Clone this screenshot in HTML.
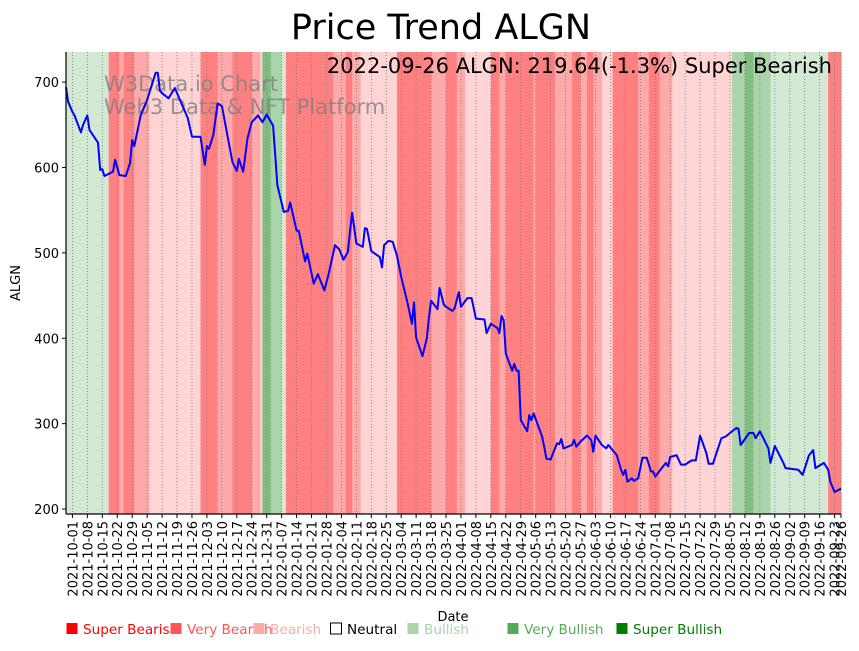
<!DOCTYPE html>
<html><head><meta charset="utf-8"><style>
body{margin:0;background:#fff;width:859px;height:646px;overflow:hidden;font-family:"Liberation Sans","DejaVu Sans",sans-serif}
svg text{font-family:"DejaVu Sans","Liberation Sans",sans-serif}
</style></head><body>
<svg id="chart" width="859" height="646" xmlns="http://www.w3.org/2000/svg">
<g id="bands"></g>
<g id="grid"></g>
<g id="wm">
<text x="104" y="91" font-size="21" fill="#808080" fill-opacity="0.8">W3Data.io Chart</text>
<text x="104" y="114" font-size="21" fill="#808080" fill-opacity="0.8">Web3 Data &amp; NFT Platform</text>
</g>
<path id="line" fill="none" stroke="#0000ff" stroke-width="2" stroke-linejoin="round"></path>
<g id="axes"></g>
<text x="441" y="39" font-size="35" text-anchor="middle">Price Trend ALGN</text>
<text x="832" y="73" font-size="21" text-anchor="end">2022-09-26 ALGN: 219.64(-1.3%) Super Bearish</text>
<text x="453" y="621" font-size="13" text-anchor="middle">Date</text>
<text transform="translate(20,283) rotate(-90)" font-size="13" text-anchor="middle">ALGN</text>
<g id="legend"></g>
</svg>
<script>
// Price data: day offsets from 2021-09-28 and closing values
const days=[0,1,3,4,7,8,10,11,15,16,17,18,22,23,25,28,30,31,32,35,38,42,43,44,45,48,51,53,57,59,63,65,66,67,69,71,73,76,78,80,81,83,85,87,90,92,94,97,99,102,104,105,108,109,112,113,116,118,121,123,126,128,130,132,134,136,139,140,141,143,147,148,149,151,153,155,157,160,162,163,164,167,169,170,171,174,175,177,178,181,182,184,185,188,190,192,196,197,199,202,203,204,205,206,209,210,211,212,213,216,217,218,219,223,224,225,227,230,231,232,233,237,238,239,241,244,246,247,248,251,253,254,258,260,261,262,263,265,266,268,270,272,273,274,275,276,279,281,282,283,286,288,290,293,295,297,300,301,303,307,309,314,315,316,320,322,323,325,329,330,332,336,337,343,345,348,350,351,355,357,358,360,363];
const prices=[694,677,665,661,641,650,661,644,629,597,598,590,595,609,591,590,605,632,625,661,679,711,711,690,687,681,693,681,658,636,636,603,625,622,638,675,672,632,606,596,610,595,634,653,661,653,662,649,579,548,549,559,526,526,490,499,464,475,456,475,509,504,492,501,547,511,507,529,528,502,495,483,509,514,513,497,472,441,417,442,401,379,400,424,444,434,459,439,437,432,435,454,437,447,447,423,422,406,417,412,406,426,421,382,362,370,362,362,304,291,310,304,312,285,273,259,258,277,276,282,271,275,281,273,279,286,281,267,286,275,271,275,263,246,240,246,232,236,233,236,260,260,252,244,244,238,248,254,250,261,263,252,252,257,257,286,265,253,253,283,285,295,294,275,289,289,283,291,271,254,274,254,248,246,240,263,269,248,254,246,232,220,224,222,219.64];
// Sentiment bands: start day, end day, level (-3 super bearish ... 3 super bullish)
const bandStart=[0,20,25,27,32,39,63,71,78,87,91,92,96,101,103,125,131,134,138,155,171,178,183,187,199,203,206,219,220,229,237,241,244,247,251,256,268,273,278,284,312,318,322,330,357];
const bandEnd=[20,25,27,32,39,63,71,78,87,91,92,96,101,103,125,131,134,138,155,171,178,183,187,199,203,206,219,220,229,237,241,244,247,251,256,268,273,278,284,312,318,322,330,357,363];
const bandLevel=[1,-3,-2,-3,-2,-1,-3,-2,-3,-2,-1,3,2,1,-3,-2,-3,-2,-1,-3,-2,-3,-2,-1,-3,-2,-3,-2,-3,-2,-3,-2,-3,-2,-1,-3,-2,-3,-2,-1,2,3,2,1,-3];
const yTicks=[200,300,400,500,600,700];
const legendLabels=["Super Bearish","Very Bearish","Bearish","Neutral","Bullish","Very Bullish","Super Bullish"];

const NS="http://www.w3.org/2000/svg";
const L=66,R=841,T=52,B=514,D0=0,D1=363,V0=194.2,V1=735.2;
const start=new Date(Date.UTC(2021,8,28));
function xs(d){return L+(d-D0)/(D1-D0)*(R-L);}
function ys(v){return B-(v-V0)/(V1-V0)*(B-T);}
function mk(tag,attrs,parent){const e=document.createElementNS(NS,tag);for(const k in attrs)e.setAttribute(k,attrs[k]);parent.appendChild(e);return e;}
const bandColor={"-3":"#ff8080","-2":"#ffaaaa","-1":"#ffd4d4","0":"#ffffff","1":"#d4e9d4","2":"#aad4aa","3":"#80bf80"};
const bg=document.getElementById('bands');
for(let i=0;i<bandStart.length;i++){
  const r=mk('rect',{x:xs(bandStart[i]),y:T,width:xs(bandEnd[i])-xs(bandStart[i])+0.5,height:B-T,fill:bandColor[bandLevel[i]]},bg);
  
  
}
const grid=document.getElementById('grid'),ax=document.getElementById('axes');
function fmt(d){const t=new Date(start.getTime()+d*864e5);return t.toISOString().slice(0,10);}
const tickDays=[];for(let d=3;d<=D1;d+=7)tickDays.push(d);tickDays.push(363);
tickDays.forEach(d=>{
  const x=xs(d);
  const g=mk('line',{x1:x,x2:x,y1:T,y2:B,stroke:'#777',"stroke-width":0.8,"stroke-dasharray":"1,2"},grid);
  
  
  mk('line',{x1:x,x2:x,y1:B,y2:B+4,stroke:'#000'},ax);
  const t=mk('text',{transform:`translate(${x+5},${B+7}) rotate(-90)`,"font-size":13,"text-anchor":"end"},ax);
  t.textContent=fmt(d);
  
  
});
yTicks.forEach(v=>{
  const y=ys(v);
  mk('line',{x1:L-4,x2:L,y1:y,y2:y,stroke:'#000'},ax);
  const t=mk('text',{x:L-7,y:y+5,"font-size":13,"text-anchor":"end"},ax);
  t.textContent=v;
  
  
});
mk('line',{x1:L,x2:L,y1:T,y2:B,stroke:'#000',"stroke-width":1.2},ax);
mk('line',{x1:L,x2:R,y1:B,y2:B,stroke:'#000',"stroke-width":1.2},ax);
let p='';days.forEach((d,i)=>{p+=(i?'L':'M')+xs(d).toFixed(1)+','+ys(prices[i]).toFixed(1);});
document.getElementById('line').setAttribute('d',p);
const lg=document.getElementById('legend');
const lx=[66,170,253,330,407,507,616];
const lc=["#ff0000","#ff5555","#ffaaaa","#ffffff","#aad4aa","#55aa55","#008000"];
const tc=["#ff0000","#ff5555","#ffaaaa","#000000","#aad4aa","#55aa55","#008000"];
legendLabels.forEach((s,i)=>{
  const g=mk('g',{},lg);
  
  
  mk('rect',{x:lx[i]+0.5,y:623,width:11,height:11,fill:lc[i],stroke:i==3?'#000':'none'},g);
  const t=mk('text',{x:lx[i]+17,y:634,"font-size":13.6,fill:tc[i]},g);
  t.textContent=s;
});
</script>
</body></html>
